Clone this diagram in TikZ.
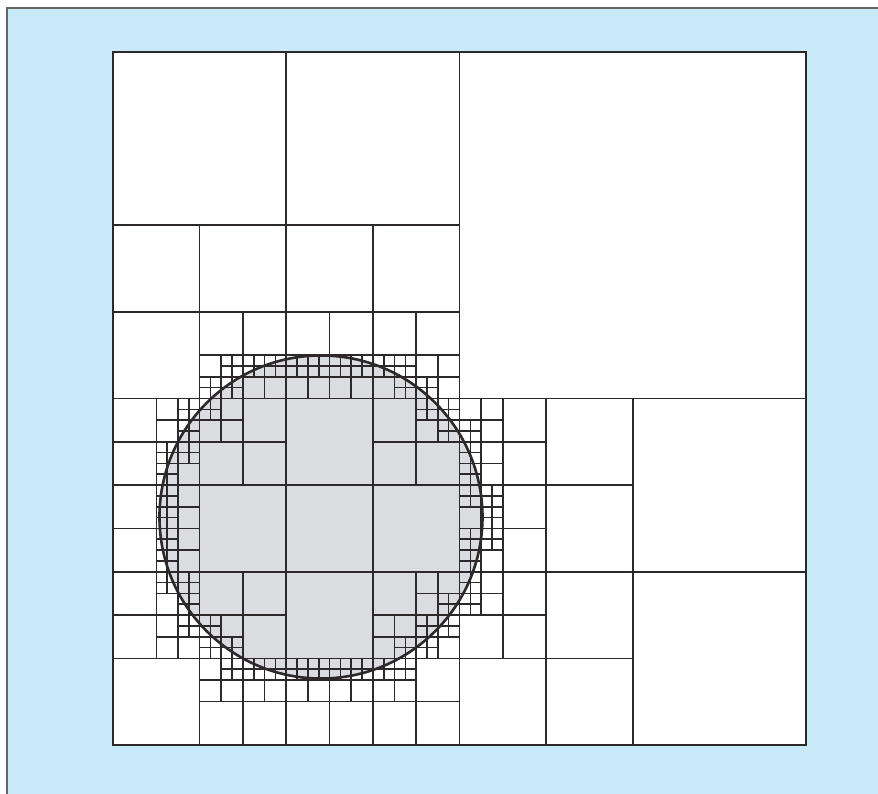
\documentclass[tikz,border=0pt]{standalone}
\definecolor{bgblue}{RGB}{199,233,248}
\definecolor{bordergray}{RGB}{100,100,104}
\definecolor{diskgray}{RGB}{219,220,223}
\definecolor{gridline}{RGB}{45,41,42}
\def\cx{4.802}
\def\cy{5.264}
\def\rad{3.729}
\def\rr{13.905}
\newcommand\qtcell[4]{%
  \begingroup
  \pgfmathsetmacro\qx{#1}\pgfmathsetmacro\qy{#2}\pgfmathsetmacro\qs{#3}%
  \pgfmathsetmacro\nx{max(\qx,min(\cx,\qx+\qs))}%
  \pgfmathsetmacro\ny{max(\qy,min(\cy,\qy+\qs))}%
  \pgfmathsetmacro\dmin{(\nx-\cx)*(\nx-\cx)+(\ny-\cy)*(\ny-\cy)}%
  \pgfmathsetmacro\fx{max(abs(\qx-\cx),abs(\qx+\qs-\cx))}%
  \pgfmathsetmacro\fy{max(abs(\qy-\cy),abs(\qy+\qs-\cy))}%
  \pgfmathsetmacro\dmax{\fx*\fx+\fy*\fy}%
  \pgfmathtruncatemacro\qsplit{(\dmin<\rr)*(\dmax>\rr)*(#4<6)}%
  \ifnum\qsplit=1
    \pgfmathsetmacro\hs{\qs/2}%
    \pgfmathsetmacro\mx{\qx+\hs}\pgfmathsetmacro\my{\qy+\hs}%
    \pgfmathsetmacro\ex{\qx+\qs}\pgfmathsetmacro\ey{\qy+\qs}%
    \draw[cellline] (\mx,\qy) -- (\mx,\ey) (\qx,\my) -- (\ex,\my);
    \pgfmathtruncatemacro\lev{#4+1}%
    \edef\qtnext{\noexpand\qtcell{\qx}{\qy}{\hs}{\lev}\noexpand\qtcell{\mx}{\qy}{\hs}{\lev}\noexpand\qtcell{\qx}{\my}{\hs}{\lev}\noexpand\qtcell{\mx}{\my}{\hs}{\lev}}%
    \qtnext
  \fi
  \endgroup}
\begin{document}
\begin{tikzpicture}[x=43.3125pt,y=43.3125pt,
  cellline/.style={draw=gridline,line width=1.6pt},
  outerline/.style={draw=gridline,line width=2pt},
  circline/.style={draw=gridline,line width=2.6pt}]
\useasboundingbox (-113pt,-48pt) rectangle (765pt,745pt);
\fill[bgblue] (-105.5pt,-60pt) rectangle (780pt,736.5pt);
\draw[bordergray,line width=2pt] (-105.5pt,-60pt) -- (-105.5pt,736.5pt) -- (780pt,736.5pt);
\fill[white] (0,0) rectangle (16,16);
\node[circle,minimum size=2*\rad*43.3125pt,inner sep=0pt,fill=diskgray] (disk) at (\cx,\cy) {};
\qtcell{0}{0}{16}{0}
\draw[outerline] (0,0) rectangle (16,16);
\draw[circline] (\cx,\cy) circle[radius=\rad];
\end{tikzpicture}
\end{document}
